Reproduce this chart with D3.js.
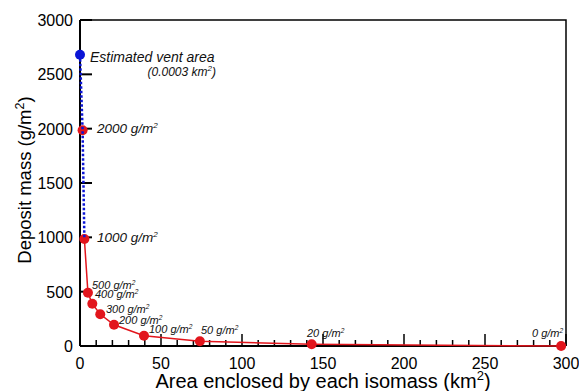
<!DOCTYPE html>
<html lang="en">
<head>
<meta charset="UTF-8">
<title>Deposit mass vs area</title>
<script src="https://d3js.org/d3.v7.min.js"></script>
<style>
  body { margin: 0; background: #fff; }
  svg text { font-family: "Liberation Sans", Arial, sans-serif; }
  .lbl { font-style: italic; fill: #111; }
</style>
</head>
<body>
<div id="chart"></div>
<script>
// isomass data
var isomass = [2000, 1000, 500, 400, 300, 200, 100, 50, 20, 0];
var areas   = [1.6, 2.7, 4.9, 7.6, 12.5, 21, 39.5, 74, 143, 297];
var masses  = [1985, 985, 490, 388, 292, 195, 95, 43, 16, 0];
var vent = { area: 0.0003, mass: 2680 };
var xTicks = [0, 50, 100, 150, 200, 250, 300];
var yTicks = [0, 500, 1000, 1500, 2000, 2500, 3000];

var w = 579, h = 391;
var pL = 80, pR = 566, pT = 20, pB = 346;
var red = "#e2151c", blue = "#0a14d6";

var x = d3.scaleLinear().domain([0, 300]).range([pL, pR]);
var y = d3.scaleLinear().domain([0, 3000]).range([pB, pT]);

var svg = d3.select("#chart").append("svg").attr("width", w).attr("height", h);

// frame top + right
svg.append("path")
  .attr("d", "M" + pL + "," + pT + "H" + pR + "V" + pB)
  .attr("fill", "none").attr("stroke", "#000").attr("stroke-width", 1.5);

// x axis, inside ticks (minor every 10)
var xMinor = d3.range(0, 301, 10);
svg.append("g").selectAll("line").data(xMinor).enter().append("line")
  .attr("x1", function(d){ return x(d); }).attr("x2", function(d){ return x(d); })
  .attr("y1", pB).attr("y2", function(d){ return d % 50 === 0 ? pB - 12 : pB - 6; })
  .attr("stroke", "#000").attr("stroke-width", 1.5);
svg.append("g").selectAll("text").data(xTicks).enter().append("text")
  .attr("x", function(d){ return x(d); }).attr("y", 369)
  .attr("text-anchor", "middle").style("font-size", "16px")
  .text(function(d){ return d; });

// y axis
svg.append("g").selectAll("line").data(yTicks).enter().append("line")
  .attr("x1", pL).attr("x2", pL + 12)
  .attr("y1", function(d){ return y(d); }).attr("y2", function(d){ return y(d); })
  .attr("stroke", "#000").attr("stroke-width", 2);
svg.append("g").selectAll("text").data(yTicks).enter().append("text")
  .attr("x", 73).attr("y", function(d){ return y(d) + 6; })
  .attr("text-anchor", "end").style("font-size", "16px")
  .text(function(d){ return d; });

svg.append("line").attr("x1", pL).attr("x2", pL).attr("y1", pT).attr("y2", pB)
  .attr("stroke", "#000").attr("stroke-width", 2);
svg.append("line").attr("x1", pL).attr("x2", pR).attr("y1", pB).attr("y2", pB)
  .attr("stroke", "#000").attr("stroke-width", 2);

// axis titles
var xt = svg.append("text").attr("x", 323).attr("y", 388).attr("text-anchor", "middle")
  .style("font-size", "20px");
xt.append("tspan").text("Area enclosed by each isomass (km");
xt.append("tspan").attr("dy", -8).style("font-size", "13px").text("2");
xt.append("tspan").attr("dy", 8).text(")");

var yt = svg.append("text").attr("transform", "translate(31,180) rotate(-90)")
  .attr("text-anchor", "middle").style("font-size", "18.5px");
yt.append("tspan").text("Deposit mass (g/m");
yt.append("tspan").attr("dy", -7).style("font-size", "12.5px").text("2");
yt.append("tspan").attr("dy", 7).text(")");

var pts = areas.map(function(a, i){ return { area: a, mass: masses[i], iso: isomass[i] }; });
var line = d3.line().x(function(d){ return x(d.area); }).y(function(d){ return y(d.mass); });

// red: 1000 onward
svg.append("path").datum(pts.slice(1)).attr("d", line)
  .attr("fill", "none").attr("stroke", red).attr("stroke-width", 1.5);

svg.selectAll("circle.iso").data(pts).enter().append("circle")
  .attr("class", "iso")
  .attr("cx", function(d){ return x(d.area); }).attr("cy", function(d){ return y(d.mass); })
  .attr("r", 5).attr("fill", red);

// blue dotted: vent -> 2000 -> 1000
svg.append("path").datum([vent, pts[0], pts[1]]).attr("d", line)
  .attr("fill", "none").attr("stroke", blue).attr("stroke-width", 2.5)
  .attr("stroke-dasharray", "2.5,2");
svg.append("circle").attr("cx", x(vent.area)).attr("cy", y(vent.mass)).attr("r", 5).attr("fill", blue);

// labels
function unitLabel(tx, ty, size, value) {
  var t = svg.append("text").attr("class", "lbl").attr("x", tx).attr("y", ty).style("font-size", size + "px");
  t.append("tspan").text(value + " g/m");
  t.append("tspan").attr("dy", -size * 0.4).style("font-size", (size * 0.6) + "px").text("2");
}
// small labels: x, baseline
var smallPos = {500: [92, 289], 400: [95, 298], 300: [106, 313], 200: [119, 324], 100: [149, 333], 50: [201, 334], 20: [307, 337], 0: [532, 337]};
unitLabel(97, 133, 13.5, 2000);
unitLabel(97, 242, 13.5, 1000);
pts.slice(2).forEach(function(d){ unitLabel(smallPos[d.iso][0], smallPos[d.iso][1], 11, d.iso); });

svg.append("text").attr("class", "lbl").attr("x", 90).attr("y", 62).style("font-size", "14px")
  .text("Estimated vent area");
var vt = svg.append("text").attr("class", "lbl").attr("x", 216).attr("y", 76)
  .attr("text-anchor", "end").style("font-size", "12px");
vt.append("tspan").text("(0.0003 km");
vt.append("tspan").attr("dy", -5).style("font-size", "8px").text("2");
vt.append("tspan").attr("dy", 5).text(")");
</script>
</body>
</html>
